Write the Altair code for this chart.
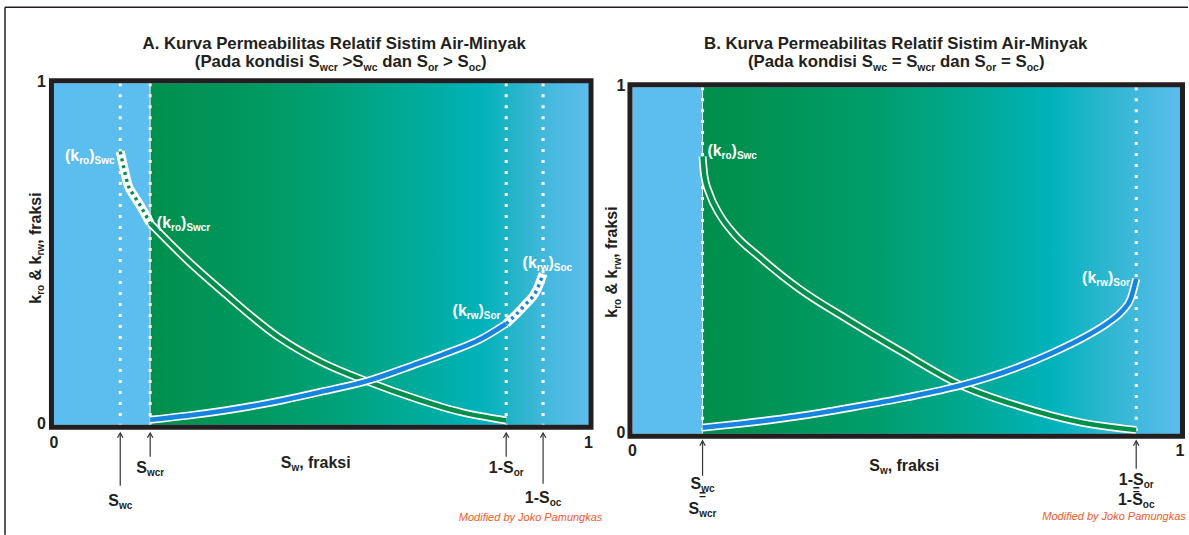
import altair as alt
import pandas as pd

FONT = "Liberation Sans"
INK = "#231f20"
ARROW = "#333333"
SKY = "#5cbdef"
GREEN = "#00904b"
BLUE = "#1585df"
WHITE = "#ffffff"
CREDIT = "#f15a29"

CANVAS_W, CANVAS_H = 1189, 535
LEFT_W = 597
RIGHT_W = CANVAS_W - LEFT_W

# tick marks shared by both panels
tick_values = [0, 1]
tick_labels = ["0", "1"]

# ---- panel A: Swcr > Swc and Sor > Soc ----
a_marker_values = [0.124, 0.180, 0.846, 0.915]      # Swc, Swcr, 1-Sor, 1-Soc
a_kro_dot_x = [0.124, 0.131, 0.138, 0.150, 0.161, 0.180]
a_kro_dot_y = [0.80, 0.75, 0.705, 0.67, 0.643, 0.59]
a_kro_x = [0.180, 0.25, 0.32, 0.42, 0.50, 0.585, 0.68, 0.76, 0.846]
a_kro_y = [0.59, 0.481, 0.384, 0.257, 0.184, 0.128, 0.075, 0.038, 0.013]
a_krw_x = [0.180, 0.25, 0.32, 0.428, 0.50, 0.585, 0.68, 0.74, 0.796, 0.846]
a_krw_y = [0.015, 0.027, 0.042, 0.072, 0.097, 0.128, 0.179, 0.213, 0.249, 0.296]
a_krw_dot_x = [0.846, 0.88, 0.903, 0.915]
a_krw_dot_y = [0.296, 0.349, 0.394, 0.442]

# ---- panel B: Swc = Swcr and Sor = Soc ----
b_marker_values = [0.128, 0.920]                      # Swc = Swcr, 1-Sor = 1-Soc
b_kro_x = [0.128, 0.131, 0.141, 0.159, 0.186, 0.232, 0.305, 0.396, 0.487, 0.600, 0.706, 0.816, 0.920]
b_kro_y = [0.80, 0.748, 0.691, 0.633, 0.576, 0.510, 0.418, 0.327, 0.241, 0.140, 0.080, 0.034, 0.011]
b_krw_x = [0.128, 0.20, 0.30, 0.40, 0.50, 0.60, 0.70, 0.77, 0.83, 0.87, 0.895, 0.91, 0.920]
b_krw_y = [0.018, 0.030, 0.050, 0.076, 0.105, 0.140, 0.190, 0.236, 0.283, 0.322, 0.355, 0.39, 0.447]

ONE = pd.DataFrame({"k": [0]})

# advance widths of a bold Arial-metric face, per 1000 em
BOLD_W = {
    " ": 278, "(": 333, ")": 333, "-": 333, ".": 278, ",": 278, "=": 584, ">": 584,
    "&": 722, "0": 556, "1": 556, "A": 722, "B": 722, "K": 722, "M": 833, "P": 667,
    "R": 722, "S": 667, "a": 556, "b": 611, "c": 556, "d": 611, "e": 556, "f": 333,
    "i": 278, "k": 556, "l": 278, "m": 889, "n": 611, "o": 611, "r": 389, "s": 556,
    "t": 333, "u": 611, "v": 556, "w": 778, "y": 556,
}


def run_width(text, size):
    return sum(BOLD_W.get(ch, 556) for ch in text) * size / 1000.0


def rich(runs, x, y, size=16, sub=10, align="center", color=INK, angle=0):
    """Text made of runs; runs flagged True are set as subscripts.

    Offsets are given in the text's own (rotated) frame, so dx runs along
    the line and dy drops the subscripts.  Edge spaces are turned into
    advances because SVG text drops them.
    """
    total = sum(run_width(t, sub if s else size) for t, s in runs)
    pos = {"center": -total / 2, "right": -total}.get(align, 0)
    layers = []
    for t, s in runs:
        fs = sub if s else size
        lead = len(t) - len(t.lstrip(" "))
        trail = len(t) - len(t.rstrip(" "))
        body = t.strip(" ")
        pos += run_width(" " * lead, fs)
        drop = round(size * 0.2, 1) if s else 0
        layers.append(
            alt.Chart(ONE)
            .mark_text(text=body, align="left", baseline="alphabetic", dx=round(pos, 2), dy=drop,
                       angle=angle, font=FONT, fontSize=fs, fontWeight="bold", color=color)
            .encode(x=x, y=y)
        )
        pos += run_width(body, fs) + run_width(" " * trail, fs)
    return layers


def xd(v, xs):
    return alt.XDatum(v, type="quantitative", scale=xs, axis=None)


def yd(v, ys):
    return alt.YDatum(v, type="quantitative", scale=ys, axis=None)


def curve(xv, yv, xs, ys, color, width, dash=None):
    df = pd.DataFrame({"x": xv, "y": yv})
    kw = dict(color=color, strokeWidth=width, interpolate="monotone",
              strokeCap="butt", strokeJoin="round")
    if dash:
        kw["strokeDash"] = dash
    return alt.Chart(df).mark_line(**kw).encode(
        x=alt.X("x:Q", scale=xs, axis=None), y=alt.Y("y:Q", scale=ys, axis=None))


def solid_curve(xv, yv, xs, ys, color):
    return [curve(xv, yv, xs, ys, WHITE, 8), curve(xv, yv, xs, ys, color, 4.6)]


def dotted_curve(xv, yv, xs, ys, color):
    return [curve(xv, yv, xs, ys, WHITE, 9), curve(xv, yv, xs, ys, color, 3.4, [3, 4])]


def arrow(v, xs, tip, bottom):
    rule = alt.Chart(ONE).mark_rule(color=ARROW, strokeWidth=1.2).encode(
        x=xd(v, xs), y=alt.value(tip + 1), y2=alt.value(bottom))
    head = alt.Chart(ONE).mark_point(
        shape="M -1 1.8 L 0 0 L 1 1.8", filled=False, size=30, color=ARROW,
        strokeWidth=1.2, opacity=1).encode(x=xd(v, xs), y=alt.value(tip))
    return [rule, head]


def base_layers(xs, ys, grad_start, stops, markers):
    layers = []
    layers.append(alt.Chart(ONE).mark_rect(fill=SKY).encode(
        x=xd(0, xs), x2=alt.X2Datum(1), y=yd(0, ys), y2=alt.Y2Datum(1)))
    grad = alt.LinearGradient(
        gradient="linear", x1=0, x2=1, y1=0, y2=0,
        stops=[alt.GradientStop(offset=o, color=c) for o, c in stops])
    layers.append(alt.Chart(ONE).mark_rect(fill=grad).encode(
        x=xd(grad_start, xs), x2=alt.X2Datum(1), y=yd(0, ys), y2=alt.Y2Datum(1)))
    layers.append(alt.Chart(ONE).mark_rule(color=WHITE, strokeWidth=1, opacity=0.85).encode(
        x=xd(grad_start, xs), y=yd(1, ys), y2=alt.Y2Datum(0)))
    mk = pd.DataFrame({"x": markers})
    layers.append(alt.Chart(mk).mark_rule(color=WHITE, strokeWidth=3, strokeDash=[3, 8]).encode(
        x=alt.X("x:Q", scale=xs, axis=None), y=yd(1, ys), y2=alt.Y2Datum(0)))
    return layers


def frame_and_ticks(xs, ys, xr, yr, ytick_x, xtick_base):
    layers = []
    layers.append(alt.Chart(ONE).mark_rect(fillOpacity=0, stroke=INK, strokeWidth=5).encode(
        x=alt.value(xr[0] - 2.5), x2=alt.value(xr[1] + 2.5),
        y=alt.value(yr[1] - 2.5), y2=alt.value(yr[0] + 2.5)))
    ticks = pd.DataFrame({"v": tick_values, "label": tick_labels})
    layers.append(alt.Chart(ticks).mark_text(
        align="right", baseline="middle", dy=-1, font=FONT, fontSize=16,
        fontWeight="bold", color=INK).encode(
        y=alt.Y("v:Q", scale=ys, axis=None), x=alt.value(ytick_x), text="label:N"))
    layers.append(alt.Chart(ticks).mark_text(
        align="center", baseline="alphabetic", font=FONT, fontSize=16,
        fontWeight="bold", color=INK).encode(
        x=alt.X("v:Q", scale=xs, axis=None), y=alt.value(xtick_base), text="label:N"))
    return layers


YTITLE = [("k", False), ("ro", True), (" & k", False), ("rw", True), (", fraksi", False)]
XTITLE = [("S", False), ("w", True), (", fraksi", False)]

# ---------------- left panel ----------------
xr_a, yr_a = [54, 589], [425, 83]
xs_a = alt.Scale(domain=[0, 1], range=xr_a, nice=False, zero=False)
ys_a = alt.Scale(domain=[0, 1], range=yr_a, nice=False, zero=False)

a_stops = [(0, "#008f4c"), (0.27, "#009a62"), (0.55, "#00a88f"), (0.76, "#00b3bb"),
           (0.83, "#25b4c9"), (0.90, "#44b8dc"), (1, "#5cbdee")]

A = []
A.append(alt.Chart(ONE).mark_rect(fill=WHITE).encode(
    x=alt.value(0), x2=alt.value(CANVAS_W), y=alt.value(0), y2=alt.value(CANVAS_H)))
A.append(alt.Chart(ONE).mark_rule(color=INK, strokeWidth=1.5).encode(
    x=alt.value(5), x2=alt.value(CANVAS_W), y=alt.value(7)))
A.append(alt.Chart(ONE).mark_rule(color=INK, strokeWidth=1.5).encode(
    x=alt.value(5), y=alt.value(7), y2=alt.value(CANVAS_H)))
A += base_layers(xs_a, ys_a, a_marker_values[1], a_stops, a_marker_values)
A += solid_curve(a_kro_x, a_kro_y, xs_a, ys_a, GREEN)
A += dotted_curve(a_kro_dot_x, a_kro_dot_y, xs_a, ys_a, GREEN)
A += solid_curve(a_krw_x, a_krw_y, xs_a, ys_a, BLUE)
A += dotted_curve(a_krw_dot_x, a_krw_dot_y, xs_a, ys_a, BLUE)
A += frame_and_ticks(xs_a, ys_a, xr_a, yr_a, 46, 448)

A += rich([("A. Kurva Permeabilitas Relatif Sistim Air-Minyak", False)],
          alt.value(335), alt.value(49), size=16.8)
A += rich([("(Pada kondisi S", False), ("wcr", True), (" >S", False), ("wc", True),
           (" dan S", False), ("or", True), (" > S", False), ("oc", True), (")", False)],
          alt.value(341), alt.value(67), size=16.8, sub=10.5)
A += rich(YTITLE, alt.value(41), alt.value(248), angle=270)
A += rich(XTITLE, alt.value(316), alt.value(468))

A += rich([("(k", False), ("ro", True), (")", False), ("Swc", True)],
          alt.value(65), alt.value(161), align="left", color=WHITE)
A += rich([("(k", False), ("ro", True), (")", False), ("Swcr", True)],
          alt.value(157), alt.value(228), align="left", color=WHITE)
A += rich([("(k", False), ("rw", True), (")", False), ("Sor", True)],
          alt.value(453), alt.value(316), align="left", color=WHITE)
A += rich([("(k", False), ("rw", True), (")", False), ("Soc", True)],
          alt.value(523), alt.value(268), align="left", color=WHITE)

a_arrows = [(a_marker_values[0], 486), (a_marker_values[1], 457),
            (a_marker_values[2], 457), (a_marker_values[3], 484)]
for v, bottom in a_arrows:
    A += arrow(v, xs_a, 433, bottom)
A += rich([("S", False), ("wc", True)], xd(a_marker_values[0], xs_a), alt.value(506))
A += rich([("S", False), ("wcr", True)], xd(a_marker_values[1], xs_a), alt.value(473))
A += rich([("1-S", False), ("or", True)], xd(a_marker_values[2], xs_a), alt.value(473))
A += rich([("1-S", False), ("oc", True)], xd(a_marker_values[3], xs_a), alt.value(503))
A.append(alt.Chart(ONE).mark_text(
    text="Modified by Joko Pamungkas", align="center", baseline="alphabetic",
    font=FONT, fontSize=11, fontStyle="italic", color=CREDIT).encode(
    x=alt.value(531), y=alt.value(521)))

left = alt.layer(*A).properties(width=LEFT_W, height=CANVAS_H)

# ---------------- right panel ----------------
OFF = LEFT_W
xr_b, yr_b = [633 - OFF, 1181 - OFF], [434, 87]
xs_b = alt.Scale(domain=[0, 1], range=xr_b, nice=False, zero=False)
ys_b = alt.Scale(domain=[0, 1], range=yr_b, nice=False, zero=False)

b_stops = [(0, "#008f4c"), (0.08, "#00914f"), (0.35, "#009d6a"), (0.55, "#00a88f"),
           (0.73, "#00b3bb"), (0.85, "#2eb6d0"), (1, "#5cbdee")]

B = []
B += base_layers(xs_b, ys_b, b_marker_values[0], b_stops, b_marker_values)
B += solid_curve(b_kro_x, b_kro_y, xs_b, ys_b, GREEN)
B += solid_curve(b_krw_x, b_krw_y, xs_b, ys_b, BLUE)
B += frame_and_ticks(xs_b, ys_b, xr_b, yr_b, 626 - OFF, 456)

B += rich([("B. Kurva Permeabilitas Relatif Sistim Air-Minyak", False)],
          alt.value(897 - OFF), alt.value(49), size=16.8)
B += rich([("(Pada kondisi S", False), ("wc", True), (" = S", False), ("wcr", True),
           (" dan S", False), ("or", True), (" = S", False), ("oc", True), (")", False)],
          alt.value(897 - OFF), alt.value(67), size=16.8, sub=10.5)
B += rich(YTITLE, alt.value(618 - OFF), alt.value(262), angle=270)
B += rich(XTITLE, alt.value(905 - OFF), alt.value(471))

B += rich([("(k", False), ("ro", True), (")", False), ("Swc", True)],
          alt.value(708 - OFF), alt.value(156), align="left", color=WHITE)
B += rich([("(k", False), ("rw", True), (")", False), ("Sor", True)],
          alt.value(1083 - OFF), alt.value(283), align="left", color=WHITE)

B += arrow(b_marker_values[0], xs_b, 441, 476)
B += arrow(b_marker_values[1], xs_b, 441, 469)
B += rich([("S", False), ("wc", True)], xd(b_marker_values[0], xs_b), alt.value(489))
B += rich([("=", False)], xd(b_marker_values[0], xs_b), alt.value(499), size=12)
B += rich([("S", False), ("wcr", True)], xd(b_marker_values[0], xs_b), alt.value(514))
B += rich([("1-S", False), ("or", True)], xd(b_marker_values[1], xs_b), alt.value(485))
B += rich([("=", False)], xd(b_marker_values[1], xs_b), alt.value(494), size=12)
B += rich([("1-S", False), ("oc", True)], xd(b_marker_values[1], xs_b), alt.value(505))
B.append(alt.Chart(ONE).mark_text(
    text="Modified by Joko Pamungkas", align="center", baseline="alphabetic",
    font=FONT, fontSize=11, fontStyle="italic", color=CREDIT).encode(
    x=alt.value(1115 - OFF), y=alt.value(520)))

right = alt.layer(*B).properties(width=RIGHT_W, height=CANVAS_H)

chart = alt.hconcat(left, right, spacing=0, bounds="flush", padding=0).configure_view(stroke=None)
chart.save("out.html", embed_options={"renderer": "svg", "actions": False})
